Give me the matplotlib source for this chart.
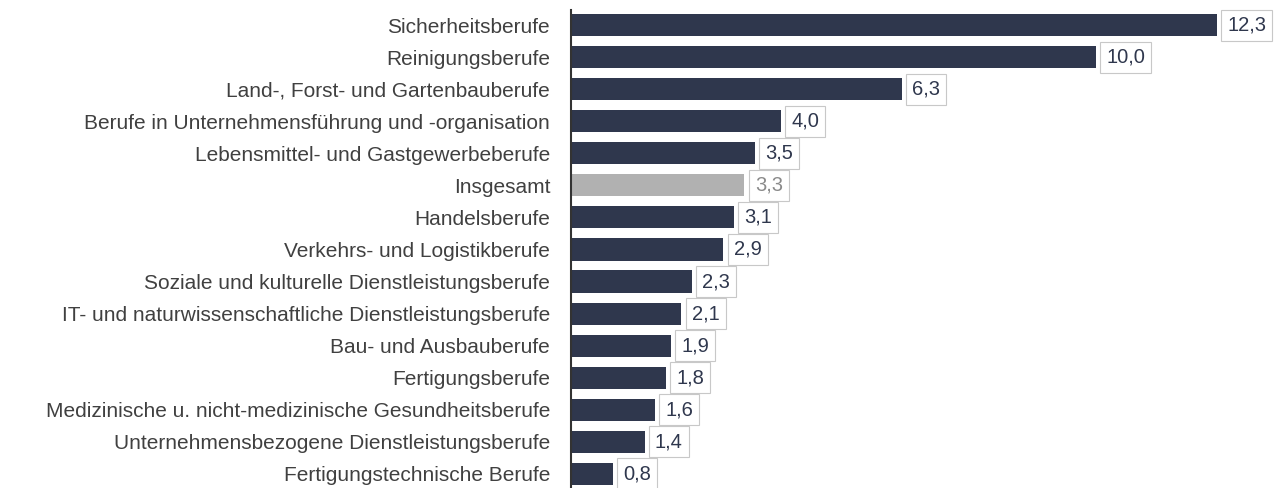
import matplotlib
matplotlib.use("Agg")
import matplotlib.pyplot as plt

plt.rcParams["font.family"] = ["Liberation Sans", "DejaVu Sans"]

categories = [
    "Sicherheitsberufe",
    "Reinigungsberufe",
    "Land-, Forst- und Gartenbauberufe",
    "Berufe in Unternehmensführung und -organisation",
    "Lebensmittel- und Gastgewerbeberufe",
    "Insgesamt",
    "Handelsberufe",
    "Verkehrs- und Logistikberufe",
    "Soziale und kulturelle Dienstleistungsberufe",
    "IT- und naturwissenschaftliche Dienstleistungsberufe",
    "Bau- und Ausbauberufe",
    "Fertigungsberufe",
    "Medizinische u. nicht-medizinische Gesundheitsberufe",
    "Unternehmensbezogene Dienstleistungsberufe",
    "Fertigungstechnische Berufe",
]
values = [12.3, 10.0, 6.3, 4.0, 3.5, 3.3, 3.1, 2.9, 2.3, 2.1, 1.9, 1.8, 1.6, 1.4, 0.8]
highlight = "Insgesamt"

dark = "#2f374d"
grey = "#b1b1b1"

fig = plt.figure(figsize=(12.88, 4.88), dpi=100)
ax = fig.add_axes([571 / 1288, 0, 717 / 1288, 478 / 488])

ypos = list(range(len(categories)))
colors = [grey if c == highlight else dark for c in categories]
ax.barh(ypos, values, height=0.69, color=colors)

for y, v, c in zip(ypos, values, categories):
    tc = "#8a8a8a" if c == highlight else dark
    ax.text(v + 0.2, y, f"{v:.1f}".replace(".", ","), va="center", ha="left",
            fontsize=14.5, color=tc,
            bbox=dict(boxstyle="square,pad=0.3", fc="white", ec="#c8c8c8", lw=0.8))

ax.set_yticks(ypos)
ax.set_yticklabels(categories, fontsize=15, color="#404040")
ax.tick_params(axis="y", length=0, pad=15)
ax.set_xticks([])
ax.set_xlim(0, 717 / 52.5)
ax.set_ylim(14.44, -0.47)
for s in ["top", "right", "bottom"]:
    ax.spines[s].set_visible(False)
ax.spines["left"].set_color("#333333")
ax.spines["left"].set_linewidth(1.5)

fig.savefig("out.png", dpi=100)
